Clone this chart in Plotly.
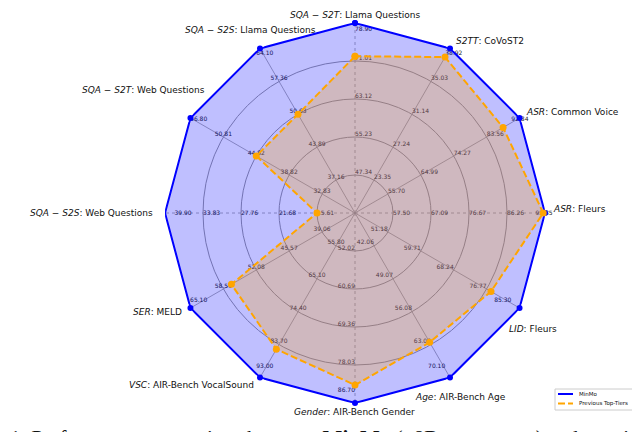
import math

import plotly.graph_objects as go

# axes listed counter-clockwise, starting at the top
axis_names = [
    "<i>SQA − S2T</i>: Llama Questions",
    "<i>SQA − S2S</i>: Llama Questions",
    "<i>SQA − S2T</i>: Web Questions",
    "<i>SQA − S2S</i>: Web Questions",
    "<i>SER</i>: MELD",
    "<i>VSC</i>: AIR-Bench VocalSound",
    "<i>Gender</i>: AIR-Bench Gender",
    "<i>Age</i>: AIR-Bench Age",
    "<i>LID</i>: Fleurs",
    "<i>ASR</i>: Fleurs",
    "<i>ASR</i>: Common Voice",
    "<i>S2TT</i>: CoVoST2",
]

minmo = [78.90, 64.10, 56.80, 39.90, 65.10, 93.00, 86.70, 70.10, 85.30, 95.85, 92.84, 38.92]
previous = [72.0, 50.63, 44.82, 15.61, 57.0, 85.0, 82.6, 62.6, 77.9, 95.4, 88.2, 37.9]

# per-axis scale: value at the innermost ring and at the outer edge
axis_low = [47.34, 37.16, 32.83, 15.61, 39.06, 55.80, 52.02, 42.06, 51.18, 57.50, 55.70, 23.35]
axis_high = [78.90, 64.10, 56.80, 39.90, 65.10, 93.00, 86.70, 70.10, 85.30, 95.85, 92.84, 38.92]

tick_labels = [
    ["47.34", "55.23", "63.12", "71.01", "78.90"],
    ["37.16", "43.89", "50.63", "57.36", "64.10"],
    ["32.83", "38.82", "44.82", "50.81", "56.80"],
    ["15.61", "21.68", "27.76", "33.83", "39.90"],
    ["39.06", "45.57", "52.08", "58.59", "65.10"],
    ["55.80", "65.10", "74.40", "83.70", "93.00"],
    ["52.02", "60.69", "69.36", "78.03", "86.70"],
    ["42.06", "49.07", "56.08", "63.09", "70.10"],
    ["51.18", "59.71", "68.24", "76.77", "85.30"],
    ["57.50", "67.09", "76.67", "86.26", "95.85"],
    ["55.70", "64.99", "74.27", "83.56", "92.84"],
    ["23.35", "27.24", "31.14", "35.03", "38.92"],
]

series_names = ["MinMo", "Previous Top-Tiers"]

RINGS = [0.2, 0.4, 0.6, 0.8]
LABEL_RINGS = [0.2, 0.4, 0.6, 0.8, 0.95]
angles = [(90 + 30 * i) % 360 for i in range(len(axis_names))]

# polar area in pixels (640x432 canvas)
CX, CY, RAD = 347, 205, 190
W, H = 640, 432

# where each axis label sits (radius in plot units, angle in degrees)
label_r = [1.04, 1.11, 1.285, 1.385, 1.165, 1.247, 1.047, 1.118, 1.118, 1.184, 1.264, 1.15]
label_theta = [90, 119.8, 149.8, 180, 206.6, 226.5, 270, 299.9, 326.9, 1, 24.9, 51.9]
tick_pos = ["top right", "top center", "top center", "middle right", "top center", "top center",
            "top left", "top left", "top left", "middle right", "top right", "top right"]

GRID = "#9a9a9a"
BLUE = "#0000ff"
ORANGE = "#ffa500"
DASH = "7px,3px"


def scaled(values):
    return [0.2 + 0.8 * (v - lo) / (hi - lo) for v, lo, hi in zip(values, axis_low, axis_high)]


def px(x):
    return x / W


def py(y):
    return 1 - y / H


fig = go.Figure()

# spokes
for ang in angles:
    fig.add_trace(go.Scatterpolar(
        r=[0, 1], theta=[ang, ang], mode="lines",
        line={"color": GRID, "width": 0.8, "dash": "dot" if ang % 90 == 0 else "solid"},
        showlegend=False, hoverinfo="skip",
    ))

# per-axis tick labels (drawn under the fills so they pick up the tint)
for i, ang in enumerate(angles):
    fig.add_trace(go.Scatterpolar(
        r=LABEL_RINGS, theta=[ang] * len(LABEL_RINGS), mode="text",
        text=tick_labels[i], textposition=tick_pos[i],
        textfont={"size": 6, "color": "#222222", "family": "DejaVu Sans"},
        showlegend=False, hoverinfo="skip", cliponaxis=False,
    ))

r_minmo = scaled(minmo)
r_prev = scaled(previous)

fig.add_trace(go.Scatterpolar(
    r=r_minmo + r_minmo[:1], theta=angles + angles[:1],
    mode="lines+markers", fill="toself",
    fillcolor="rgba(0,0,255,0.25)",
    line={"color": BLUE, "width": 2},
    marker={"size": 6, "color": BLUE},
    name=series_names[0], showlegend=False, cliponaxis=False,
))
fig.add_trace(go.Scatterpolar(
    r=r_prev + r_prev[:1], theta=angles + angles[:1],
    mode="lines+markers", fill="toself",
    fillcolor="rgba(255,165,0,0.25)",
    line={"color": ORANGE, "width": 2, "dash": DASH},
    marker={"size": 7, "color": ORANGE},
    name=series_names[1], showlegend=False, cliponaxis=False,
))

# axis names, outside the polar area
for name, r, th in zip(axis_names, label_r, label_theta):
    a = math.radians(th)
    fig.add_annotation(
        text=name, xref="paper", yref="paper",
        x=px(CX + r * RAD * math.cos(a)), y=py(CY - r * RAD * math.sin(a)),
        xanchor="center", yanchor="middle", showarrow=False,
        font={"size": 9, "color": "#111111", "family": "DejaVu Sans"},
    )

# compact legend box, lower right
fig.add_shape(type="rect", xref="paper", yref="paper",
              x0=px(547), x1=px(637), y0=py(402), y1=py(381),
              line={"color": "#cccccc", "width": 1}, fillcolor="white")
for k, (name, color, dash) in enumerate(zip(series_names, [BLUE, ORANGE], ["solid", DASH])):
    yk = 386 + 9.5 * k
    fig.add_shape(type="line", xref="paper", yref="paper",
                  x0=px(550), x1=px(565), y0=py(yk), y1=py(yk),
                  line={"color": color, "width": 2, "dash": dash})
    fig.add_annotation(text=name, xref="paper", yref="paper", x=px(569), y=py(yk),
                       xanchor="left", yanchor="middle", showarrow=False,
                       font={"size": 5.5, "color": "#111111", "family": "DejaVu Sans"})

fig.add_annotation(
    text="1: Performance comparison between <b>MinMo</b> (~8B parameters) and top-tier speech-text",
    xref="paper", yref="paper", x=0, y=py(416), xanchor="left", yanchor="top",
    showarrow=False, font={"family": "Liberation Serif", "size": 21, "color": "#111111"},
)

fig.update_layout(
    width=W, height=H,
    margin={"l": 0, "r": 0, "t": 0, "b": 0},
    paper_bgcolor="white",
    showlegend=False,
    polar={
        "domain": {"x": [px(CX - RAD), px(CX + RAD)], "y": [py(CY + RAD), py(CY - RAD)]},
        "bgcolor": "white",
        "radialaxis": {"range": [0, 1], "tickvals": RINGS,
                       "showticklabels": False, "ticks": "", "showline": False,
                       "gridcolor": GRID, "gridwidth": 0.8},
        "angularaxis": {"showgrid": False, "showline": False, "showticklabels": False,
                        "ticks": "", "rotation": 0, "direction": "counterclockwise"},
    },
)

fig.write_html("out.html")
